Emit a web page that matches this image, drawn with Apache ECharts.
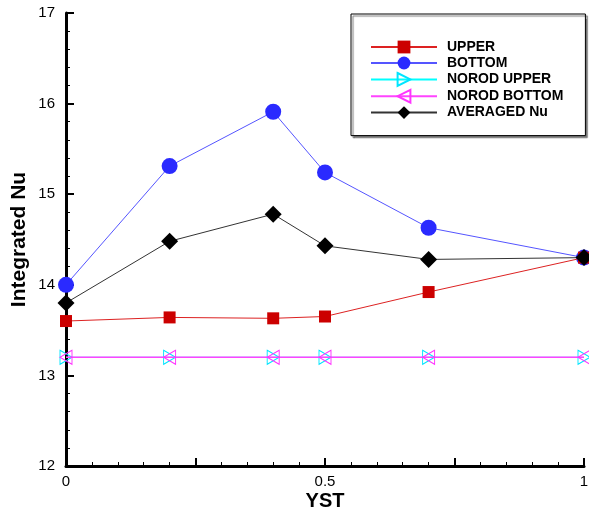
<!DOCTYPE html>
<html>
<head>
<meta charset="utf-8">
<script src="https://cdn.jsdelivr.net/npm/echarts@6/dist/echarts.min.js"></script>
<style>
  html, body { margin: 0; padding: 0; background: #fff; }
  #chart { width: 589px; height: 511px; }
</style>
</head>
<body>
<div id="chart"></div>
<script>
// x positions (YST)
var yst = [0, 0.2, 0.4, 0.5, 0.7, 1.0];
// integrated Nu per series
var upper = [13.60, 13.64, 13.63, 13.65, 13.92, 14.30];
var bottom = [14.00, 15.31, 15.91, 15.24, 14.63, 14.30];
var norodUpper = [13.2, 13.2, 13.2, 13.2, 13.2, 13.2];
var norodBottom = [13.2, 13.2, 13.2, 13.2, 13.2, 13.2];
var averaged = [13.80, 14.48, 14.78, 14.43, 14.28, 14.30];
var xLabels = ['0', '0.5', '1'];

var FONT = "'Liberation Sans', Arial, sans-serif";

function pairs(ys) {
  return yst.map(function (x, i) { return [x, ys[i]]; });
}

var myChart = echarts.init(document.getElementById('chart'));
myChart.setOption({
  backgroundColor: '#fff',
  animation: false,
  textStyle: { fontFamily: FONT },
  grid: { left: 66, right: 5, top: 13, bottom: 45, outerBoundsMode: 'none' },
  legend: {
    orient: 'vertical',
    left: 351,
    top: 14,
    padding: [26, 22, 16, 19],
    itemWidth: 66,
    itemHeight: 16,
    itemGap: 2,
    backgroundColor: '#fff',
    borderColor: '#000',
    borderWidth: 1,
    borderRadius: 0,
    shadowColor: '#777',
    shadowBlur: 1,
    shadowOffsetX: 2,
    shadowOffsetY: 2,
    textStyle: { fontFamily: FONT, fontSize: 14, fontWeight: 'bold', color: '#000', padding: [0, 0, 0, 5] },
    data: ['UPPER', 'BOTTOM', 'NOROD UPPER', 'NOROD BOTTOM', 'AVERAGED Nu']
  },
  xAxis: {
    type: 'value',
    min: 0,
    max: 1,
    interval: 0.25,
    name: 'YST',
    nameLocation: 'middle',
    nameGap: 25,
    nameMoveOverlap: false,
    nameTextStyle: { fontFamily: FONT, fontSize: 20, fontWeight: 'bold', color: '#000' },
    axisLine: { lineStyle: { color: '#000', width: 3 } },
    axisTick: { inside: true, length: 8, lineStyle: { color: '#000', width: 2 } },
    minorTick: { show: true, splitNumber: 5, length: 4, lineStyle: { color: '#000', width: 1 } },
    splitLine: { show: false },
    axisLabel: {
      margin: 8,
      fontFamily: FONT,
      fontSize: 15,
      color: '#000',
      formatter: function (v) {
        var s = String(v);
        return xLabels.indexOf(s) >= 0 ? s : '';
      }
    }
  },
  yAxis: {
    type: 'value',
    min: 12,
    max: 17,
    interval: 1,
    name: 'Integrated Nu',
    nameLocation: 'middle',
    nameGap: 36,
    nameMoveOverlap: false,
    nameTextStyle: { fontFamily: FONT, fontSize: 21, fontWeight: 'bold', color: '#000' },
    axisLine: { show: true, lineStyle: { color: '#000', width: 3 } },
    axisTick: { show: true, inside: true, length: 8, lineStyle: { color: '#000', width: 2 } },
    minorTick: { show: true, splitNumber: 5, length: 4, lineStyle: { color: '#000', width: 1 } },
    splitLine: { show: false },
    axisLabel: { margin: 11, fontFamily: FONT, fontSize: 15, color: '#000' }
  },
  series: [
    {
      name: 'UPPER',
      type: 'line',
      data: pairs(upper),
      symbol: 'rect',
      symbolSize: 12,
      color: '#cc0000',
      lineStyle: { color: '#dd2222', width: 1 },
      itemStyle: { color: '#cc0000' },
      z: 3
    },
    {
      name: 'BOTTOM',
      type: 'line',
      data: pairs(bottom),
      symbol: 'circle',
      symbolSize: 16,
      color: '#2a2aff',
      lineStyle: { color: '#5555ff', width: 1 },
      itemStyle: { color: '#2a2aff' },
      z: 2
    },
    {
      name: 'NOROD UPPER',
      type: 'line',
      data: pairs(norodUpper),
      symbol: 'path://M0,0 L10,5 L0,10 Z',
      symbolSize: [12, 14],
      color: '#00e5ff',
      lineStyle: { color: '#00ffff', width: 1 },
      itemStyle: { color: 'rgba(0,0,0,0)', borderColor: '#00e5ff', borderWidth: 1 },
      z: 2
    },
    {
      name: 'NOROD BOTTOM',
      type: 'line',
      data: pairs(norodBottom),
      symbol: 'path://M10,0 L0,5 L10,10 Z',
      symbolSize: [12, 14],
      color: '#ff33ff',
      lineStyle: { color: '#ff44ff', width: 1.5 },
      itemStyle: { color: 'rgba(0,0,0,0)', borderColor: '#ff33ff', borderWidth: 1 },
      z: 3
    },
    {
      name: 'AVERAGED Nu',
      type: 'line',
      data: pairs(averaged),
      symbol: 'diamond',
      symbolSize: 17,
      color: '#000',
      lineStyle: { color: '#333', width: 1 },
      itemStyle: { color: '#000' },
      z: 4
    }
  ]
});
</script>
</body>
</html>
